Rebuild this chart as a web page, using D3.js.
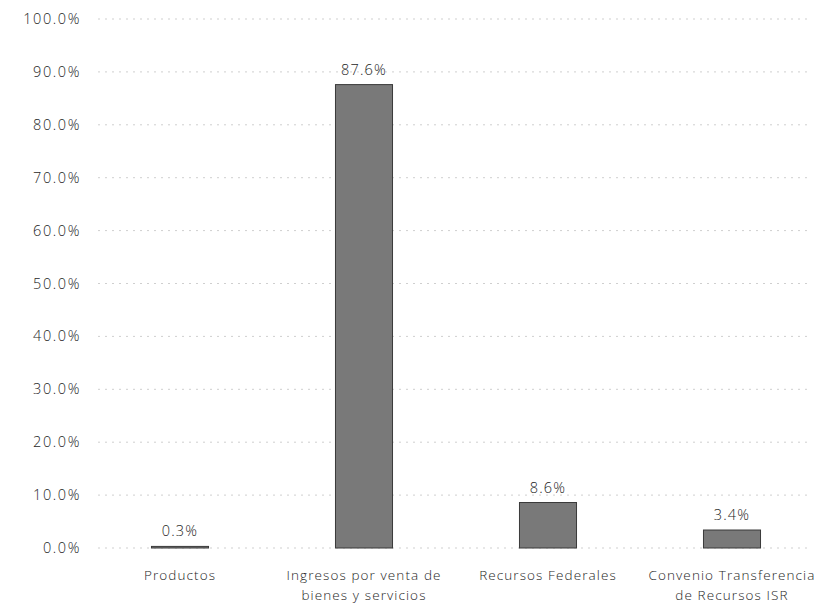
<!DOCTYPE html>
<html><head><meta charset="utf-8">
<script src="https://cdn.jsdelivr.net/npm/d3@7"></script>
<style>body{margin:0;background:#fff}svg{display:block}text{font-family:"Open Sans",Calibri,sans-serif;fill:#1e1e1e;font-weight:300}</style>
</head><body><svg id="c" width="827" height="604"></svg>
<script>
const categories = [["Productos"],["Ingresos por venta de","bienes y servicios"],["Recursos Federales"],["Convenio Transferencia","de Recursos ISR"]];
const values = [0.3, 87.6, 8.6, 3.4];
const yTicks = [0,10,20,30,40,50,60,70,80,90,100];

const svg = d3.select("#c");
const x = d3.scaleBand().domain(d3.range(categories.length)).range([88, 824]).paddingInner(0.69).paddingOuter(0.345);
const y = d3.scaleLinear().domain([0,100]).range([548, 19]);

svg.append("g").selectAll("line").data(yTicks).join("line")
  .attr("x1", 98).attr("x2", 812).attr("y1", d=>y(d)).attr("y2", d=>y(d))
  .attr("stroke", "#cfcfcf").attr("stroke-width", 1).attr("stroke-dasharray", "2,5");

svg.append("g").selectAll("text").data(yTicks).join("text")
  .attr("x", 81).attr("y", d=>y(d)+5).attr("text-anchor","end").attr("font-size", 14.5)
  .attr("letter-spacing", 1.6).text(d=>d.toFixed(1)+"%");

svg.append("g").selectAll("rect").data(values).join("rect")
  .attr("x", (d,i)=>x(i)).attr("width", x.bandwidth())
  .attr("y", d=>y(d)).attr("height", d=>y(0)-y(d))
  .attr("fill", "#797979").attr("stroke", "#3a3a3a").attr("stroke-width", 1);

svg.append("g").selectAll("text").data(values).join("text")
  .attr("x", (d,i)=>x(i)+x.bandwidth()/2).attr("y", d=>y(d)-10)
  .attr("text-anchor","middle").attr("font-size", 14.5).attr("letter-spacing", 1.2).text(d=>d.toFixed(1)+"%");

const cl = svg.append("g").selectAll("text").data(categories).join("text")
  .attr("x", (d,i)=>x(i)+x.bandwidth()/2).attr("y", 580).attr("text-anchor","middle")
  .attr("font-size", 13.5).attr("letter-spacing", 1.1);
cl.selectAll("tspan").data(d=>d).join("tspan")
  .attr("x", function(){return this.parentNode.getAttribute("x");})
  .attr("dy", (d,i)=>i===0?0:20).text(d=>d);
</script></body></html>
